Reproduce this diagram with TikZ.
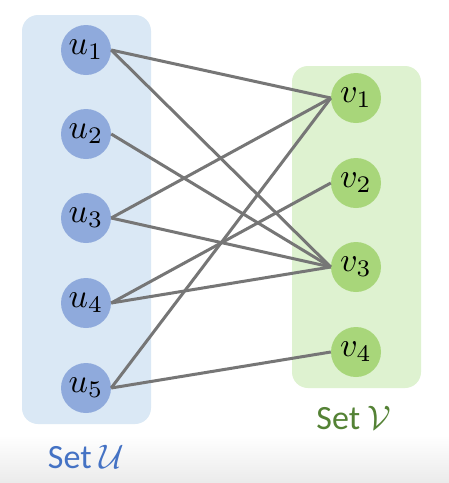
\documentclass[tikz,border=0pt]{standalone}
\usepackage{graphicx}
\usepackage{fontspec}
\setmainfont{Carlito}
\definecolor{boxU}{RGB}{218,232,245}
\definecolor{nodeU}{RGB}{143,170,220}
\definecolor{boxV}{RGB}{222,242,208}
\definecolor{nodeV}{RGB}{168,214,122}
\definecolor{edgegray}{RGB}{118,118,118}
\definecolor{textU}{RGB}{68,114,196}
\definecolor{textV}{RGB}{84,130,53}
\newcommand{\bigmath}[1]{\scalebox{3.4}{\fontsize{10}{12}\selectfont$#1$}}
\tikzset{
  unode/.style={circle,fill=nodeU,minimum size=50pt,inner sep=0pt},
  vnode/.style={circle,fill=nodeV,minimum size=50pt,inner sep=0pt},
  edge/.style={draw=edgegray,line width=3pt},
  setlabel/.style={font=\fontsize{34}{34}\selectfont,inner sep=0pt}
}
\begin{document}
\begin{tikzpicture}[x=1pt,y=-1pt]
\useasboundingbox (0,0) rectangle (449,483);
\fill[white] (0,0) rectangle (449,483);
\shade[top color=white,bottom color=black!8] (0,435) rectangle (449,483);
\fill[boxU,rounded corners=16pt] (22,15) rectangle (151,424);
\fill[boxV,rounded corners=16pt] (292,66) rectangle (421,388);
\node[unode] (u1) at (86,50) {\bigmath{u_1}};
\node[unode] (u2) at (86,134) {\bigmath{u_2}};
\node[unode] (u3) at (86,218) {\bigmath{u_3}};
\node[unode] (u4) at (86,303) {\bigmath{u_4}};
\node[unode] (u5) at (86,388) {\bigmath{u_5}};
\node[vnode] (v1) at (356,98) {\bigmath{v_1}};
\node[vnode] (v2) at (356,183) {\bigmath{v_2}};
\node[vnode] (v3) at (356,267) {\bigmath{v_3}};
\node[vnode] (v4) at (356,352) {\bigmath{v_4}};
\draw[edge] (u1.east) -- (v1.west);
\draw[edge] (u1.east) -- (v3.west);
\draw[edge] (u2.east) -- (v3.west);
\draw[edge] (u3.east) -- (v1.west);
\draw[edge] (u3.east) -- (v3.west);
\draw[edge] (u4.east) -- (v2.west);
\draw[edge] (u4.east) -- (v3.west);
\draw[edge] (u5.east) -- (v1.west);
\draw[edge] (u5.east) -- (v4.west);
\node[setlabel,text=textU] (lu) at (86,457) {Set \bigmath{\mathcal{U}}};
\node[setlabel,text=textV] (lv) at (354,418) {Set \bigmath{\mathcal{V}}};
\end{tikzpicture}
\end{document}
